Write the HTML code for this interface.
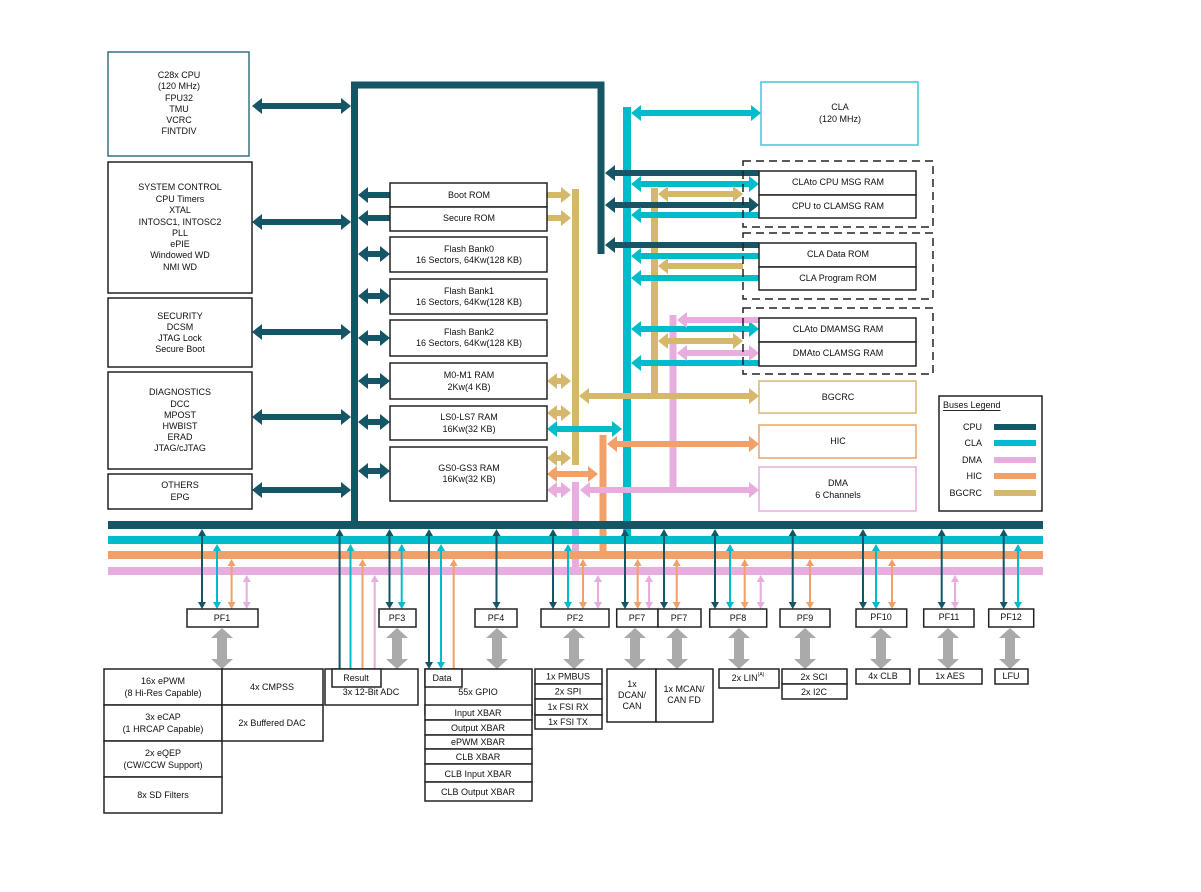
<!DOCTYPE html>
<html><head><meta charset="utf-8"><style>
html,body{margin:0;padding:0;background:#fff}
svg{display:block}
text{font-family:"Liberation Sans",sans-serif;font-size:9px;fill:#111;text-anchor:middle;dominant-baseline:central}
.b{fill:#fff;stroke:#222;stroke-width:1.5}
</style></head><body>
<svg width="1201" height="892" viewBox="0 0 1201 892" xmlns="http://www.w3.org/2000/svg">
<defs>
<marker id="mC" markerUnits="userSpaceOnUse" viewBox="0 -8 10 16" markerWidth="10" markerHeight="16" refX="0" refY="0" orient="auto-start-reverse"><path d="M0,-8L10,0L0,8z" fill="#145566"/></marker>
<marker id="mL" markerUnits="userSpaceOnUse" viewBox="0 -8 10 16" markerWidth="10" markerHeight="16" refX="0" refY="0" orient="auto-start-reverse"><path d="M0,-8L10,0L0,8z" fill="#00bcca"/></marker>
<marker id="mB" markerUnits="userSpaceOnUse" viewBox="0 -8 10 16" markerWidth="10" markerHeight="16" refX="0" refY="0" orient="auto-start-reverse"><path d="M0,-8L10,0L0,8z" fill="#d6b86c"/></marker>
<marker id="mH" markerUnits="userSpaceOnUse" viewBox="0 -8 10 16" markerWidth="10" markerHeight="16" refX="0" refY="0" orient="auto-start-reverse"><path d="M0,-8L10,0L0,8z" fill="#f0a068"/></marker>
<marker id="mD" markerUnits="userSpaceOnUse" viewBox="0 -8 10 16" markerWidth="10" markerHeight="16" refX="0" refY="0" orient="auto-start-reverse"><path d="M0,-8L10,0L0,8z" fill="#e8acdf"/></marker>
<marker id="mG" markerUnits="userSpaceOnUse" viewBox="0 -11 10 22" markerWidth="10" markerHeight="22" refX="0" refY="0" orient="auto-start-reverse"><path d="M0,-11L10,0L0,11z" fill="#aaaaaa"/></marker>
<marker id="tC" markerUnits="userSpaceOnUse" viewBox="0 -4 7 8" markerWidth="7" markerHeight="8" refX="0" refY="0" orient="auto-start-reverse"><path d="M0,-4L7,0L0,4z" fill="#145566"/></marker>
<marker id="tL" markerUnits="userSpaceOnUse" viewBox="0 -4 7 8" markerWidth="7" markerHeight="8" refX="0" refY="0" orient="auto-start-reverse"><path d="M0,-4L7,0L0,4z" fill="#00bcca"/></marker>
<marker id="tH" markerUnits="userSpaceOnUse" viewBox="0 -4 7 8" markerWidth="7" markerHeight="8" refX="0" refY="0" orient="auto-start-reverse"><path d="M0,-4L7,0L0,4z" fill="#f0a068"/></marker>
<marker id="tD" markerUnits="userSpaceOnUse" viewBox="0 -4 7 8" markerWidth="7" markerHeight="8" refX="0" refY="0" orient="auto-start-reverse"><path d="M0,-4L7,0L0,4z" fill="#e8acdf"/></marker>
</defs>

<!-- verticals -->
<line x1="627" y1="107" x2="627" y2="540" stroke="#00bcca" stroke-width="8"/>
<line x1="575.5" y1="189" x2="575.5" y2="465" stroke="#d6b86c" stroke-width="7"/>
<line x1="654.5" y1="188" x2="654.5" y2="399" stroke="#d6b86c" stroke-width="7"/>
<line x1="603" y1="435" x2="603" y2="555" stroke="#f0a068" stroke-width="7"/>
<line x1="673" y1="315" x2="673" y2="493" stroke="#e8acdf" stroke-width="7"/>
<line x1="575.5" y1="482" x2="575.5" y2="571" stroke="#e8acdf" stroke-width="7"/>

<!-- buses -->
<rect x="108" y="567" width="935" height="8" fill="#e8acdf"/>
<rect x="108" y="551" width="935" height="8" fill="#f0a068"/>
<rect x="108" y="536" width="935" height="8" fill="#00bcca"/>
<rect x="108" y="521" width="935" height="8" fill="#145566"/>
<path d="M354.5,522V85H601V254" fill="none" stroke="#145566" stroke-width="7"/>

<!-- CPU thick arrows -->
<g stroke="#145566" stroke-width="6">
<line x1="262" y1="106" x2="341" y2="106" marker-start="url(#mC)" marker-end="url(#mC)"/>
<line x1="262" y1="222" x2="341" y2="222" marker-start="url(#mC)" marker-end="url(#mC)"/>
<line x1="262" y1="332" x2="341" y2="332" marker-start="url(#mC)" marker-end="url(#mC)"/>
<line x1="262" y1="417" x2="341" y2="417" marker-start="url(#mC)" marker-end="url(#mC)"/>
<line x1="262" y1="490" x2="341" y2="490" marker-start="url(#mC)" marker-end="url(#mC)"/>
<line x1="368" y1="195" x2="390" y2="195" marker-start="url(#mC)"/>
<line x1="368" y1="218" x2="390" y2="218" marker-start="url(#mC)"/>
<line x1="368" y1="254" x2="380" y2="254" marker-start="url(#mC)" marker-end="url(#mC)"/>
<line x1="368" y1="296" x2="380" y2="296" marker-start="url(#mC)" marker-end="url(#mC)"/>
<line x1="368" y1="338" x2="380" y2="338" marker-start="url(#mC)" marker-end="url(#mC)"/>
<line x1="368" y1="381" x2="380" y2="381" marker-start="url(#mC)" marker-end="url(#mC)"/>
<line x1="368" y1="422" x2="380" y2="422" marker-start="url(#mC)" marker-end="url(#mC)"/>
<line x1="368" y1="471" x2="380" y2="471" marker-start="url(#mC)" marker-end="url(#mC)"/>
<line x1="615" y1="173" x2="759" y2="173" marker-start="url(#mC)"/>
<line x1="615" y1="205" x2="749" y2="205" marker-start="url(#mC)" marker-end="url(#mC)"/>
<line x1="615" y1="245" x2="759" y2="245" marker-start="url(#mC)"/>
</g>
<g stroke="#00bcca" stroke-width="6">
<line x1="641" y1="113" x2="751" y2="113" marker-start="url(#mL)" marker-end="url(#mL)"/>
<line x1="641" y1="184" x2="749" y2="184" marker-start="url(#mL)" marker-end="url(#mL)"/>
<line x1="641" y1="215" x2="759" y2="215" marker-start="url(#mL)"/>
<line x1="641" y1="256" x2="759" y2="256" marker-start="url(#mL)"/>
<line x1="641" y1="278" x2="759" y2="278" marker-start="url(#mL)"/>
<line x1="641" y1="329" x2="749" y2="329" marker-start="url(#mL)" marker-end="url(#mL)"/>
<line x1="641" y1="363" x2="759" y2="363" marker-start="url(#mL)"/>
<line x1="557" y1="429" x2="612" y2="429" marker-start="url(#mL)" marker-end="url(#mL)"/>
</g>
<g stroke="#d6b86c" stroke-width="6">
<line x1="547" y1="195" x2="561" y2="195" marker-end="url(#mB)"/>
<line x1="547" y1="218" x2="561" y2="218" marker-end="url(#mB)"/>
<line x1="557" y1="381" x2="561" y2="381" marker-start="url(#mB)" marker-end="url(#mB)"/>
<line x1="557" y1="413" x2="561" y2="413" marker-start="url(#mB)" marker-end="url(#mB)"/>
<line x1="557" y1="458" x2="561" y2="458" marker-start="url(#mB)" marker-end="url(#mB)"/>
<line x1="589" y1="396" x2="749" y2="396" marker-start="url(#mB)" marker-end="url(#mB)"/>
<line x1="668" y1="194" x2="733" y2="194" marker-start="url(#mB)" marker-end="url(#mB)"/>
<line x1="668" y1="266" x2="743" y2="266" marker-start="url(#mB)"/>
<line x1="668" y1="341" x2="733" y2="341" marker-start="url(#mB)" marker-end="url(#mB)"/>
</g>
<g stroke="#f0a068" stroke-width="6">
<line x1="557" y1="474" x2="588" y2="474" marker-start="url(#mH)" marker-end="url(#mH)"/>
<line x1="617" y1="444" x2="749" y2="444" marker-start="url(#mH)" marker-end="url(#mH)"/>
</g>
<g stroke="#e8acdf" stroke-width="6">
<line x1="557" y1="490" x2="561" y2="490" marker-start="url(#mD)" marker-end="url(#mD)"/>
<line x1="590" y1="490" x2="749" y2="490" marker-start="url(#mD)" marker-end="url(#mD)"/>
<line x1="687" y1="320" x2="759" y2="320" marker-start="url(#mD)"/>
<line x1="687" y1="353" x2="749" y2="353" marker-start="url(#mD)" marker-end="url(#mD)"/>
</g>

<!-- left boxes -->
<rect x="108" y="52" width="141" height="104" fill="#fff" stroke="#3a7080" stroke-width="1.5"/>
<text x="179" y="75">C28x CPU</text><text x="179" y="86">(120 MHz)</text><text x="179" y="98">FPU32</text><text x="179" y="109">TMU</text><text x="179" y="120">VCRC</text><text x="179" y="131">FINTDIV</text>
<rect class="b" x="108" y="162" width="144" height="131"/>
<text x="180" y="187">SYSTEM CONTROL</text><text x="180" y="199">CPU Timers</text><text x="180" y="210">XTAL</text><text x="180" y="222">INTOSC1, INTOSC2</text><text x="180" y="233">PLL</text><text x="180" y="244">ePIE</text><text x="180" y="255">Windowed WD</text><text x="180" y="267">NMI WD</text>
<rect class="b" x="108" y="298" width="144" height="69"/>
<text x="180" y="316">SECURITY</text><text x="180" y="327">DCSM</text><text x="180" y="338">JTAG Lock</text><text x="180" y="349">Secure Boot</text>
<rect class="b" x="108" y="372" width="144" height="97"/>
<text x="180" y="392">DIAGNOSTICS</text><text x="180" y="404">DCC</text><text x="180" y="415">MPOST</text><text x="180" y="426">HWBIST</text><text x="180" y="437">ERAD</text><text x="180" y="448">JTAG/cJTAG</text>
<rect class="b" x="108" y="474" width="144" height="35"/>
<text x="180" y="485">OTHERS</text><text x="180" y="497">EPG</text>

<!-- memory -->
<rect class="b" x="390" y="183" width="157" height="24"/><text x="469" y="195">Boot ROM</text>
<rect class="b" x="390" y="207" width="157" height="24"/><text x="469" y="218">Secure ROM</text>
<rect class="b" x="390" y="237" width="157" height="35"/><text x="469" y="249">Flash Bank0</text><text x="469" y="260">16 Sectors, 64Kw(128 KB)</text>
<rect class="b" x="390" y="279" width="157" height="35"/><text x="469" y="291">Flash Bank1</text><text x="469" y="302">16 Sectors, 64Kw(128 KB)</text>
<rect class="b" x="390" y="320" width="157" height="36"/><text x="469" y="332">Flash Bank2</text><text x="469" y="343">16 Sectors, 64Kw(128 KB)</text>
<rect class="b" x="390" y="363" width="157" height="36"/><text x="469" y="375">M0-M1 RAM</text><text x="469" y="387">2Kw(4 KB)</text>
<rect class="b" x="390" y="406" width="157" height="34"/><text x="469" y="417">LS0-LS7 RAM</text><text x="469" y="429">16Kw(32 KB)</text>
<rect class="b" x="390" y="447" width="157" height="54"/><text x="469" y="468">GS0-GS3 RAM</text><text x="469" y="479">16Kw(32 KB)</text>

<!-- right side -->
<rect x="761" y="82" width="157" height="63" fill="#fff" stroke="#40c8d4" stroke-width="1.5"/>
<text x="840" y="107">CLA</text><text x="840" y="119">(120 MHz)</text>
<g fill="none" stroke="#222" stroke-width="1.5" stroke-dasharray="8,5">
<rect x="743" y="161" width="190" height="66"/>
<rect x="743" y="233" width="190" height="66"/>
<rect x="743" y="308" width="190" height="66"/>
</g>
<rect class="b" x="759" y="171" width="157" height="24"/><text x="838" y="182">CLAto CPU MSG RAM</text>
<rect class="b" x="759" y="195" width="157" height="23"/><text x="838" y="206">CPU to CLAMSG RAM</text>
<rect class="b" x="759" y="243" width="157" height="24"/><text x="838" y="254">CLA Data ROM</text>
<rect class="b" x="759" y="267" width="157" height="23"/><text x="838" y="278">CLA Program ROM</text>
<rect class="b" x="759" y="318" width="157" height="24"/><text x="838" y="329">CLAto DMAMSG RAM</text>
<rect class="b" x="759" y="342" width="157" height="24"/><text x="838" y="353">DMAto CLAMSG RAM</text>
<rect x="759" y="381" width="157" height="32" fill="#fff" stroke="#d6b86c" stroke-width="1.5"/><text x="838" y="397">BGCRC</text>
<rect x="759" y="425" width="157" height="33" fill="#fff" stroke="#f0a068" stroke-width="1.5"/><text x="838" y="441">HIC</text>
<rect x="759" y="467" width="157" height="44" fill="#fff" stroke="#e8acdf" stroke-width="1.5"/><text x="838" y="483">DMA</text><text x="838" y="495">6 Channels</text>

<!-- legend -->
<rect x="939" y="396" width="103" height="115" fill="#fff" stroke="#222" stroke-width="1.5"/>
<text x="943" y="405" style="text-anchor:start;text-decoration:underline">Buses Legend</text>
<g style="text-anchor:end">
<text x="982" y="427" style="text-anchor:end">CPU</text>
<text x="982" y="443" style="text-anchor:end">CLA</text>
<text x="982" y="460" style="text-anchor:end">DMA</text>
<text x="982" y="476" style="text-anchor:end">HIC</text>
<text x="982" y="493" style="text-anchor:end">BGCRC</text>
</g>
<rect x="994" y="424" width="42" height="6" fill="#145566"/>
<rect x="994" y="440" width="42" height="6" fill="#00bcca"/>
<rect x="994" y="457" width="42" height="6" fill="#e8acdf"/>
<rect x="994" y="473" width="42" height="6" fill="#f0a068"/>
<rect x="994" y="490" width="42" height="6" fill="#d6b86c"/>

<!-- thin bus arrows to PF -->
<g stroke-width="2">
<g stroke="#145566">
<line x1="202" y1="536" x2="202" y2="602" marker-start="url(#tC)" marker-end="url(#tC)"/>
<line x1="389.5" y1="536" x2="389.5" y2="602" marker-start="url(#tC)" marker-end="url(#tC)"/>
<line x1="496.5" y1="536" x2="496.5" y2="602" marker-start="url(#tC)" marker-end="url(#tC)"/>
<line x1="553" y1="536" x2="553" y2="602" marker-start="url(#tC)" marker-end="url(#tC)"/>
<line x1="625" y1="536" x2="625" y2="602" marker-start="url(#tC)" marker-end="url(#tC)"/>
<line x1="664" y1="536" x2="664" y2="602" marker-start="url(#tC)" marker-end="url(#tC)"/>
<line x1="715" y1="536" x2="715" y2="602" marker-start="url(#tC)" marker-end="url(#tC)"/>
<line x1="792.7" y1="536" x2="792.7" y2="602" marker-start="url(#tC)" marker-end="url(#tC)"/>
<line x1="863" y1="536" x2="863" y2="602" marker-start="url(#tC)" marker-end="url(#tC)"/>
<line x1="941.7" y1="536" x2="941.7" y2="602" marker-start="url(#tC)" marker-end="url(#tC)"/>
<line x1="1003.7" y1="536" x2="1003.7" y2="602" marker-start="url(#tC)" marker-end="url(#tC)"/>
<line x1="339.6" y1="536" x2="339.6" y2="669" marker-start="url(#tC)"/>
<line x1="429" y1="536" x2="429" y2="662" marker-start="url(#tC)" marker-end="url(#tC)"/>
</g>
<g stroke="#00bcca">
<line x1="217" y1="551" x2="217" y2="602" marker-start="url(#tL)" marker-end="url(#tL)"/>
<line x1="401.7" y1="551" x2="401.7" y2="602" marker-start="url(#tL)" marker-end="url(#tL)"/>
<line x1="568" y1="551" x2="568" y2="602" marker-start="url(#tL)" marker-end="url(#tL)"/>
<line x1="730" y1="551" x2="730" y2="602" marker-start="url(#tL)" marker-end="url(#tL)"/>
<line x1="876" y1="551" x2="876" y2="602" marker-start="url(#tL)" marker-end="url(#tL)"/>
<line x1="1018" y1="551" x2="1018" y2="602" marker-start="url(#tL)" marker-end="url(#tL)"/>
<line x1="350.5" y1="551" x2="350.5" y2="669" marker-start="url(#tL)"/>
<line x1="441" y1="551" x2="441" y2="662" marker-start="url(#tL)" marker-end="url(#tL)"/>
</g>
<g stroke="#f0a068">
<line x1="231.6" y1="566" x2="231.6" y2="602" marker-start="url(#tH)" marker-end="url(#tH)"/>
<line x1="583" y1="566" x2="583" y2="602" marker-start="url(#tH)" marker-end="url(#tH)"/>
<line x1="637.7" y1="566" x2="637.7" y2="602" marker-start="url(#tH)" marker-end="url(#tH)"/>
<line x1="676.7" y1="566" x2="676.7" y2="602" marker-start="url(#tH)" marker-end="url(#tH)"/>
<line x1="744.7" y1="566" x2="744.7" y2="602" marker-start="url(#tH)" marker-end="url(#tH)"/>
<line x1="810" y1="566" x2="810" y2="602" marker-start="url(#tH)" marker-end="url(#tH)"/>
<line x1="892" y1="566" x2="892" y2="602" marker-start="url(#tH)" marker-end="url(#tH)"/>
<line x1="362.5" y1="566" x2="362.5" y2="669" marker-start="url(#tH)"/>
<line x1="453.7" y1="566" x2="453.7" y2="669" marker-start="url(#tH)"/>
</g>
<g stroke="#e8acdf">
<line x1="246.7" y1="582" x2="246.7" y2="602" marker-start="url(#tD)" marker-end="url(#tD)"/>
<line x1="598" y1="582" x2="598" y2="602" marker-start="url(#tD)" marker-end="url(#tD)"/>
<line x1="649" y1="582" x2="649" y2="602" marker-start="url(#tD)" marker-end="url(#tD)"/>
<line x1="760.7" y1="582" x2="760.7" y2="602" marker-start="url(#tD)" marker-end="url(#tD)"/>
<line x1="955" y1="582" x2="955" y2="602" marker-start="url(#tD)" marker-end="url(#tD)"/>
<line x1="374.7" y1="582" x2="374.7" y2="669" marker-start="url(#tD)"/>
</g>
</g>

<!-- PF boxes -->
<rect class="b" x="187" y="609" width="71" height="18"/><text x="222" y="618">PF1</text>
<rect class="b" x="379" y="609" width="37" height="18"/><text x="397" y="618">PF3</text>
<rect class="b" x="475" y="609" width="42" height="18"/><text x="496" y="618">PF4</text>
<rect class="b" x="541" y="609" width="68" height="18"/><text x="575" y="618">PF2</text>
<rect class="b" x="616.7" y="609" width="41.3" height="18"/><text x="637" y="618">PF7</text>
<rect class="b" x="658" y="609" width="43" height="18"/><text x="679" y="618">PF7</text>
<rect class="b" x="709.7" y="609" width="57" height="18"/><text x="738" y="618">PF8</text>
<rect class="b" x="780" y="609" width="50" height="18"/><text x="805" y="618">PF9</text>
<rect class="b" x="856" y="609" width="50.7" height="18"/><text x="881" y="617">PF10</text>
<rect class="b" x="923.7" y="609" width="50.3" height="18"/><text x="949" y="617">PF11</text>
<rect class="b" x="988.7" y="609" width="45" height="18"/><text x="1011" y="617">PF12</text>

<!-- gray arrows -->
<g stroke="#aaaaaa" stroke-width="10">
<line x1="222" y1="638" x2="222" y2="659" marker-start="url(#mG)" marker-end="url(#mG)"/>
<line x1="397" y1="638" x2="397" y2="659" marker-start="url(#mG)" marker-end="url(#mG)"/>
<line x1="497" y1="638" x2="497" y2="659" marker-start="url(#mG)" marker-end="url(#mG)"/>
<line x1="574" y1="638" x2="574" y2="659" marker-start="url(#mG)" marker-end="url(#mG)"/>
<line x1="635" y1="638" x2="635" y2="659" marker-start="url(#mG)" marker-end="url(#mG)"/>
<line x1="677" y1="638" x2="677" y2="659" marker-start="url(#mG)" marker-end="url(#mG)"/>
<line x1="739" y1="638" x2="739" y2="659" marker-start="url(#mG)" marker-end="url(#mG)"/>
<line x1="805" y1="638" x2="805" y2="659" marker-start="url(#mG)" marker-end="url(#mG)"/>
<line x1="881" y1="638" x2="881" y2="659" marker-start="url(#mG)" marker-end="url(#mG)"/>
<line x1="948" y1="638" x2="948" y2="659" marker-start="url(#mG)" marker-end="url(#mG)"/>
<line x1="1010" y1="638" x2="1010" y2="659" marker-start="url(#mG)" marker-end="url(#mG)"/>
</g>

<!-- peripherals -->
<rect class="b" x="104" y="669" width="118" height="36"/><text x="163" y="681">16x ePWM</text><text x="163" y="693">(8 Hi-Res Capable)</text>
<rect class="b" x="104" y="705" width="118" height="36"/><text x="163" y="717">3x eCAP</text><text x="163" y="729">(1 HRCAP Capable)</text>
<rect class="b" x="104" y="741" width="118" height="36"/><text x="163" y="753">2x eQEP</text><text x="163" y="765">(CW/CCW Support)</text>
<rect class="b" x="104" y="777" width="118" height="36"/><text x="163" y="795">8x SD Filters</text>
<rect class="b" x="222" y="669" width="101" height="36"/><text x="272" y="687">4x CMPSS</text>
<rect class="b" x="222" y="705" width="101" height="36"/><text x="272" y="723">2x Buffered DAC</text>

<rect class="b" x="325" y="669" width="93" height="36"/><text x="371" y="692">3x 12-Bit ADC</text>
<rect class="b" x="332" y="669" width="49" height="18"/><text x="356" y="678">Result</text>

<rect class="b" x="425" y="669" width="107" height="46"/><text x="478" y="692">55x GPIO</text>
<rect class="b" x="425" y="669" width="37" height="18"/><text x="442" y="678">Data</text>
<rect class="b" x="425" y="705" width="107" height="15"/><text x="478" y="713">Input XBAR</text>
<rect class="b" x="425" y="720" width="107" height="15"/><text x="478" y="728">Output XBAR</text>
<rect class="b" x="425" y="735" width="107" height="14"/><text x="478" y="742">ePWM XBAR</text>
<rect class="b" x="425" y="749" width="107" height="15"/><text x="478" y="757">CLB XBAR</text>
<rect class="b" x="425" y="764" width="107" height="18"/><text x="478" y="774">CLB Input XBAR</text>
<rect class="b" x="425" y="782" width="107" height="19"/><text x="478" y="792">CLB Output XBAR</text>

<rect class="b" x="535" y="669" width="67" height="15"/><text x="568" y="676.5">1x PMBUS</text>
<rect class="b" x="535" y="684" width="67" height="15"/><text x="568" y="691.5">2x SPI</text>
<rect class="b" x="535" y="699" width="67" height="16"/><text x="568" y="707">1x FSI RX</text>
<rect class="b" x="535" y="715" width="67" height="14"/><text x="568" y="722">1x FSI TX</text>

<rect class="b" x="607" y="669" width="49" height="53"/><text x="632" y="684">1x</text><text x="632" y="695">DCAN/</text><text x="632" y="706">CAN</text>
<rect class="b" x="656" y="669" width="57" height="53"/><text x="684" y="689">1x MCAN/</text><text x="684" y="700">CAN FD</text>
<rect class="b" x="719" y="669" width="60" height="19"/><text x="748" y="678">2x LIN<tspan font-size="5" dy="-3">(A)</tspan></text>
<rect class="b" x="782" y="669" width="65" height="15"/><text x="814" y="677">2x SCI</text>
<rect class="b" x="782" y="684" width="65" height="15"/><text x="814" y="692">2x I2C</text>
<rect class="b" x="856" y="669" width="54" height="15"/><text x="883" y="676">4x CLB</text>
<rect class="b" x="919" y="669" width="63" height="15"/><text x="950" y="676">1x AES</text>
<rect class="b" x="995" y="669" width="33" height="15"/><text x="1011" y="676">LFU</text>
</svg>
</body></html>
